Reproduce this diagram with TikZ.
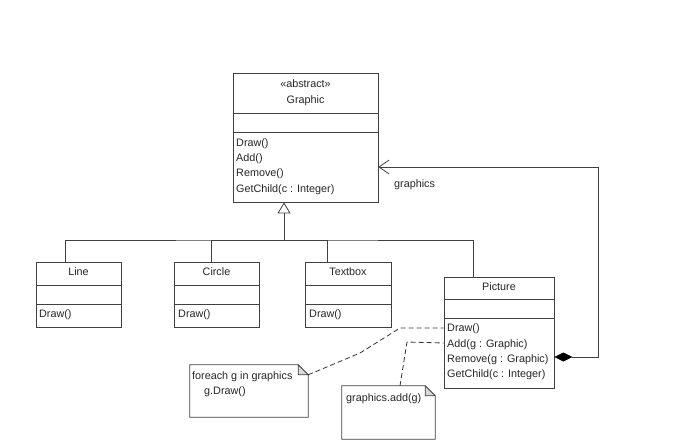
\documentclass[tikz,border=0pt]{standalone}
\usepackage{fontspec}
\setmainfont{Liberation Sans}
\usepackage{tikz}
\usetikzlibrary{arrows.meta, shadows}

\begin{document}
\begin{tikzpicture}[
    x=1pt, y=-1pt,
    font=\fontsize{10.8}{15.2}\selectfont,
    every node/.style={text=black!85},
    class/.style={
        rectangle, draw=black!75, line width=0.8pt, fill=white, inner sep=0pt,
        drop shadow={shadow xshift=1pt, shadow yshift=-1pt, opacity=0.25}
    },
    sep/.style={draw=black!75, line width=0.8pt},
    title/.style={inner sep=0pt},
    member/.style={anchor=west, align=left, inner sep=0pt},
    note/.style={rectangle, inner sep=0pt},
    notebox/.style={draw=black!75, line width=0.8pt, fill=white},
    link/.style={draw=black!75, line width=0.8pt},
    inherits/.style={link, -{Triangle[open, length=11pt, width=13pt]}},
    composes/.style={link, arrows={Diamond[length=18pt, width=9pt, color=black, fill=black]-Straight Barb[length=10pt, width=14pt]}},
    anchored/.style={draw=black!80, line width=0.8pt, dash pattern=on 5pt off 3pt}
]
\useasboundingbox (0,0) rectangle (692,447);

% Abstract base class
\node[class, minimum width=145pt, minimum height=129pt] (graphic) at (305.5,137.5) {};
\node[title] at (305.5,84) {«abstract»};
\node[title] at (305.5,101) {Graphic};
\draw[sep] (graphic.west |- 0,113) -- (graphic.east |- 0,113);
\draw[sep] (graphic.west |- 0,132) -- (graphic.east |- 0,132);
\node[member] at (236,166.5) {Draw()\\Add()\\Remove()\\GetChild(c : Integer)};

% Leaf classes
\node[class, minimum width=85pt, minimum height=65pt] (line) at (78.5,294.5) {};
\node[title] at (78.5,272) {Line};
\draw[sep] (line.west |- 0,285) -- (line.east |- 0,285);
\draw[sep] (line.west |- 0,304) -- (line.east |- 0,304);
\node[member] at (39,314.5) {Draw()};

\node[class, minimum width=85pt, minimum height=65pt] (circ) at (216.5,294.5) {};
\node[title] at (216.5,272) {Circle};
\draw[sep] (circ.west |- 0,285) -- (circ.east |- 0,285);
\draw[sep] (circ.west |- 0,304) -- (circ.east |- 0,304);
\node[member] at (178,314.5) {Draw()};

\node[class, minimum width=86pt, minimum height=65pt] (textbox) at (348,294.5) {};
\node[title] at (348,272) {Textbox};
\draw[sep] (textbox.west |- 0,285) -- (textbox.east |- 0,285);
\draw[sep] (textbox.west |- 0,304) -- (textbox.east |- 0,304);
\node[member] at (309,314.5) {Draw()};

% Composite class
\node[class, minimum width=110pt, minimum height=111pt] (picture) at (499,332.5) {};
\node[title] at (499,287) {Picture};
\draw[sep] (picture.west |- 0,299) -- (picture.east |- 0,299);
\draw[sep] (picture.west |- 0,318) -- (picture.east |- 0,318);
\node[member] at (447,352) {Draw()\\Add(g : Graphic)\\Remove(g : Graphic)\\GetChild(c : Integer)};

% Notes
\node[note, minimum width=118pt, minimum height=52pt] (drawnote) at (249,391) {};
\draw[notebox] (drawnote.north west) -- ([xshift=-10pt]drawnote.north east)
    -- ([yshift=-10pt]drawnote.north east) -- (drawnote.south east)
    -- (drawnote.south west) -- cycle;
\draw[notebox, fill=black!15] ([xshift=-10pt]drawnote.north east)
    |- ([yshift=-10pt]drawnote.north east) -- cycle;
\node[member] at (192,384.5) {foreach g in graphics\\\hspace*{12pt}g.Draw()};

\node[note, minimum width=93pt, minimum height=53pt] (addnote) at (388.5,412.5) {};
\draw[notebox] (addnote.north west) -- ([xshift=-10pt]addnote.north east)
    -- ([yshift=-10pt]addnote.north east) -- (addnote.south east)
    -- (addnote.south west) -- cycle;
\draw[notebox, fill=black!15] ([xshift=-10pt]addnote.north east)
    |- ([yshift=-10pt]addnote.north east) -- cycle;
\node[member] at (346,399) {graphics.add(g)};

% Generalization
\coordinate (fork) at (284,240);
\draw[inherits] (fork) -- (graphic.south -| fork);
\draw[link] (line.north -| 65,0) |- (fork) -| (picture.north -| 473,0);
\draw[link] (circ.north -| 211,0) |- (fork);
\draw[link] (textbox.north -| 327,0) |- (fork);

% Composition
\draw[composes] (picture.east |- 0,357) -| (598,167) -- (graphic.east |- 0,167);
\node[member] at (394,185) {graphics};

% Note anchors
\draw[anchored] ([yshift=-10pt]drawnote.north east) -- (360,353) -- (400,328)
    -- (picture.west |- 0,328);
\draw[anchored] (addnote.north -| 400,0) -- (407,342) -- (picture.west |- 0,343);

\end{tikzpicture}
\end{document}
